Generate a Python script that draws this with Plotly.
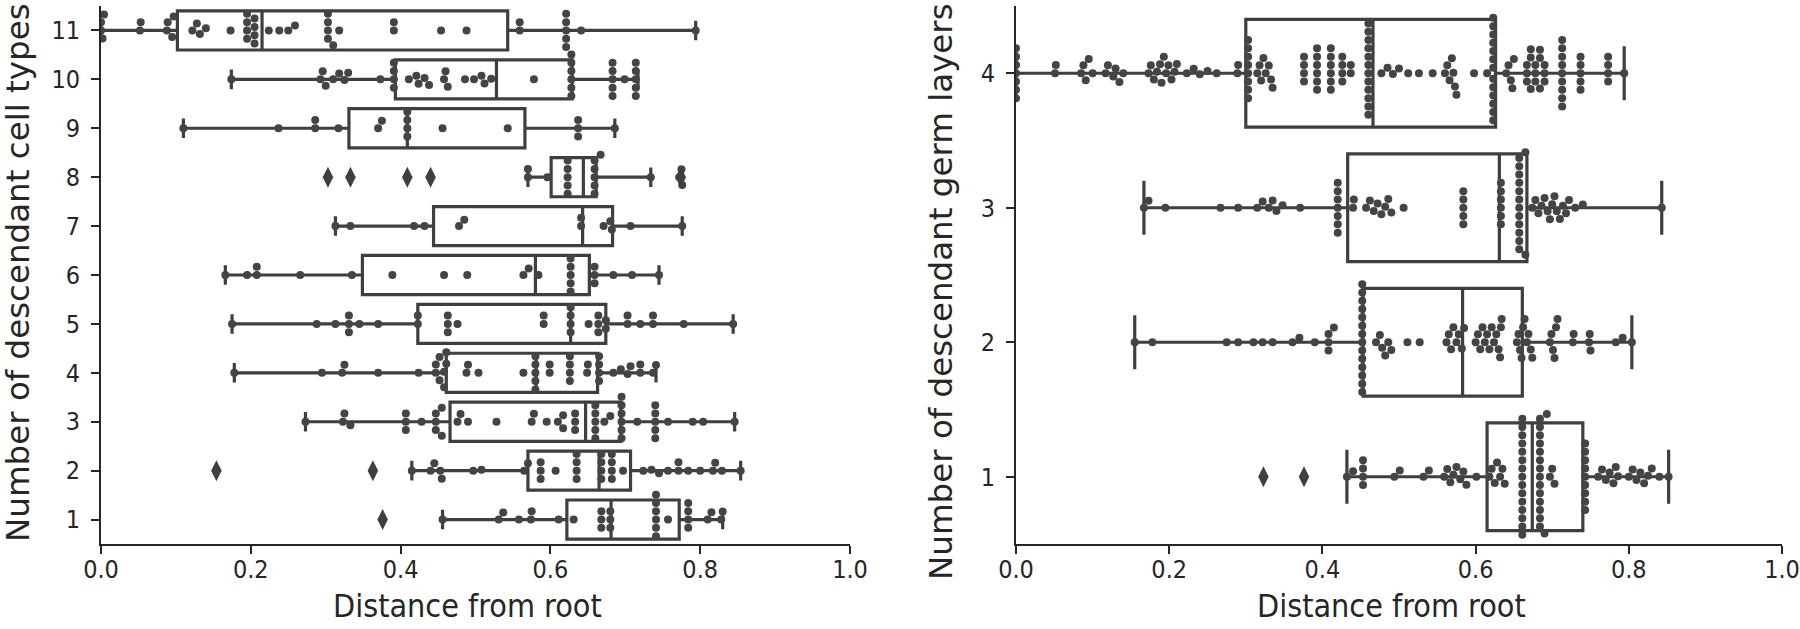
import math
import plotly.graph_objects as go

# ---------------- data: left panel (number of descendant cell types) ----------------
cell_cats = [1, 2, 3, 4, 5, 6, 7, 8, 9, 10, 11]
cell_lo  = [0.456, 0.415, 0.273, 0.178, 0.175, 0.166, 0.313, 0.570, 0.110, 0.174, 0.000]
cell_q1  = [0.622, 0.570, 0.466, 0.461, 0.423, 0.349, 0.444, 0.601, 0.331, 0.393, 0.102]
cell_med = [0.681, 0.665, 0.647, 0.581, 0.627, 0.580, 0.643, 0.644, 0.409, 0.528, 0.215]
cell_q3  = [0.772, 0.707, 0.694, 0.663, 0.674, 0.652, 0.683, 0.661, 0.566, 0.629, 0.543]
cell_hi  = [0.830, 0.854, 0.846, 0.741, 0.844, 0.745, 0.776, 0.734, 0.686, 0.717, 0.794]

cell_out_cat = [8, 8, 8, 8, 8, 2, 2, 1]
cell_out_val = [0.303, 0.333, 0.409, 0.440, 0.774, 0.154, 0.363, 0.376]

cell_1 = [0.456, 0.531, 0.537, 0.558, 0.574, 0.575, 0.611, 0.631, 0.668, 0.668, 0.668, 0.680, 0.680, 0.680,
          0.741, 0.741, 0.741, 0.741, 0.741, 0.741, 0.757, 0.784, 0.784, 0.784, 0.784, 0.810, 0.815, 0.828, 0.830]
cell_2 = [0.415, 0.440, 0.445, 0.453, 0.455, 0.497, 0.508, 0.565, 0.570, 0.587, 0.587, 0.587, 0.607,
          0.635, 0.635, 0.635, 0.635, 0.668, 0.668, 0.668, 0.668, 0.682, 0.682, 0.682, 0.682, 0.697,
          0.724, 0.735, 0.745, 0.757, 0.771, 0.771, 0.784, 0.800, 0.817, 0.820, 0.829, 0.854]
cell_3 = [0.273, 0.323, 0.325, 0.333, 0.407, 0.407, 0.407, 0.428, 0.447, 0.447, 0.447, 0.455, 0.455,
          0.476, 0.480, 0.490, 0.528, 0.575, 0.578, 0.595, 0.610, 0.617, 0.617, 0.633, 0.633, 0.633,
          0.660, 0.660, 0.660, 0.660, 0.660, 0.672, 0.680, 0.695, 0.695, 0.695, 0.695, 0.695, 0.695,
          0.716, 0.740, 0.740, 0.740, 0.740, 0.740, 0.757, 0.790, 0.804, 0.846]
cell_4 = [0.178, 0.295, 0.322, 0.325, 0.370, 0.424, 0.447, 0.447, 0.452, 0.452, 0.458, 0.458, 0.461, 0.461,
          0.488, 0.490, 0.504, 0.564, 0.580, 0.580, 0.580, 0.580, 0.580, 0.599, 0.599, 0.626, 0.626,
          0.626, 0.626, 0.649, 0.650, 0.665, 0.665, 0.665, 0.665, 0.684, 0.694, 0.703, 0.707, 0.720,
          0.720, 0.737, 0.741]
cell_5 = [0.175, 0.288, 0.313, 0.331, 0.331, 0.331, 0.345, 0.370, 0.423, 0.423, 0.463, 0.463, 0.463, 0.476,
          0.591, 0.591, 0.627, 0.627, 0.627, 0.627, 0.651, 0.664, 0.664, 0.664, 0.674, 0.674, 0.703,
          0.703, 0.720, 0.737, 0.737, 0.778, 0.844]
cell_6 = [0.166, 0.195, 0.208, 0.208, 0.266, 0.335, 0.389, 0.458, 0.489, 0.564, 0.571, 0.584, 0.627,
          0.627, 0.627, 0.627, 0.627, 0.659, 0.659, 0.659, 0.684, 0.709, 0.745]
cell_7 = [0.313, 0.333, 0.418, 0.432, 0.478, 0.485, 0.641, 0.641, 0.671, 0.680, 0.682, 0.707, 0.776]
cell_8 = [0.570, 0.570, 0.596, 0.623, 0.623, 0.623, 0.623, 0.623, 0.659, 0.659, 0.659, 0.659, 0.659,
          0.667, 0.734, 0.772, 0.775, 0.776]
cell_9 = [0.110, 0.237, 0.286, 0.286, 0.317, 0.370, 0.375, 0.409, 0.409, 0.409, 0.409, 0.456, 0.543,
          0.637, 0.637, 0.637, 0.686]
cell_10 = [0.174, 0.293, 0.296, 0.300, 0.310, 0.318, 0.325, 0.330, 0.373, 0.391, 0.391, 0.391, 0.391,
           0.411, 0.421, 0.424, 0.432, 0.438, 0.458, 0.460, 0.463, 0.486, 0.498, 0.508, 0.512, 0.521,
           0.578, 0.628, 0.628, 0.628, 0.628, 0.628, 0.628, 0.683, 0.683, 0.683, 0.683, 0.683, 0.699,
           0.714, 0.714, 0.714, 0.714, 0.714]
cell_11 = [0.000, 0.000, 0.002, 0.004, 0.052, 0.053, 0.088, 0.089, 0.095, 0.097, 0.122, 0.128, 0.132,
           0.140, 0.173, 0.195, 0.195, 0.195, 0.195, 0.205, 0.205, 0.205, 0.205, 0.224, 0.238, 0.250,
           0.259, 0.303, 0.303, 0.303, 0.303, 0.310, 0.318, 0.391, 0.391, 0.454, 0.488, 0.559, 0.559,
           0.621, 0.621, 0.621, 0.621, 0.621, 0.641, 0.794]
cell_points = [cell_1, cell_2, cell_3, cell_4, cell_5, cell_6, cell_7, cell_8, cell_9, cell_10, cell_11]

# ---------------- data: right panel (number of descendant germ layers) ----------------
germ_cats = [1, 2, 3, 4]
germ_lo  = [0.432, 0.155, 0.167, 0.000]
germ_q1  = [0.615, 0.453, 0.433, 0.300]
germ_med = [0.674, 0.583, 0.631, 0.466]
germ_q3  = [0.740, 0.661, 0.667, 0.626]
germ_hi  = [0.852, 0.804, 0.843, 0.794]

germ_out_cat = [1, 1]
germ_out_val = [0.323, 0.376]

germ_1 = [0.432, 0.440, 0.453, 0.453, 0.453, 0.453, 0.494, 0.501, 0.532, 0.539,
          0.559, 0.563, 0.567, 0.571, 0.575, 0.580, 0.584, 0.588, 0.601,
          0.618, 0.621, 0.625, 0.628, 0.632, 0.635, 0.638,
          0.661, 0.661, 0.661, 0.661, 0.661, 0.661, 0.661, 0.661, 0.661, 0.661, 0.661, 0.661, 0.661, 0.661, 0.661,
          0.684, 0.684, 0.684, 0.684, 0.684, 0.684, 0.684, 0.684, 0.684, 0.684, 0.684, 0.684, 0.684, 0.684,
          0.690, 0.693, 0.697, 0.700, 0.703,
          0.743, 0.743, 0.743, 0.743, 0.743, 0.743, 0.743, 0.743, 0.743,
          0.760, 0.765, 0.770, 0.775, 0.780, 0.783, 0.786,
          0.800, 0.805, 0.810, 0.815, 0.820, 0.825, 0.830, 0.840, 0.852]
germ_2 = [0.155, 0.178, 0.275, 0.290, 0.310, 0.322, 0.335, 0.361, 0.370, 0.390, 0.408, 0.408, 0.408, 0.415,
          0.452, 0.452, 0.452, 0.452, 0.452, 0.452, 0.452, 0.452, 0.452, 0.452, 0.452, 0.452, 0.452, 0.452,
          0.470, 0.475, 0.478, 0.482, 0.486, 0.490, 0.511, 0.527,
          0.562, 0.565, 0.568, 0.571, 0.575, 0.578, 0.582, 0.585,
          0.600, 0.603, 0.606, 0.609, 0.612, 0.615, 0.618, 0.621, 0.624, 0.627, 0.630, 0.632, 0.633, 0.634,
          0.654, 0.656, 0.658, 0.660, 0.662, 0.664, 0.667, 0.669, 0.672, 0.674,
          0.697, 0.699, 0.701, 0.703, 0.705, 0.707,
          0.727, 0.728, 0.748, 0.749, 0.750, 0.783, 0.792, 0.804]
germ_3 = [0.167, 0.173, 0.195, 0.267, 0.290, 0.315, 0.322, 0.330, 0.335, 0.340, 0.348, 0.371,
          0.420, 0.420, 0.420, 0.420, 0.420, 0.420, 0.420, 0.440, 0.441,
          0.457, 0.462, 0.467, 0.472, 0.477, 0.482, 0.486, 0.490, 0.506,
          0.584, 0.584, 0.584, 0.584, 0.584, 0.633, 0.633, 0.633, 0.633, 0.633, 0.633,
          0.657, 0.657, 0.657, 0.657, 0.657, 0.657, 0.657, 0.657, 0.657, 0.657, 0.657, 0.657, 0.665, 0.665,
          0.674, 0.678, 0.682, 0.686, 0.690, 0.694, 0.697, 0.700, 0.703, 0.706, 0.710, 0.714, 0.718,
          0.722, 0.730, 0.740, 0.843]
germ_4 = [0.000, 0.000, 0.000, 0.000, 0.000, 0.000, 0.000,
          0.051, 0.052, 0.085, 0.088, 0.091, 0.095, 0.100,
          0.117, 0.120, 0.127, 0.130, 0.135, 0.140,
          0.173, 0.176, 0.180, 0.184, 0.188, 0.190, 0.193, 0.196, 0.199, 0.203, 0.207, 0.210,
          0.223, 0.232, 0.240, 0.250, 0.262, 0.289, 0.290,
          0.303, 0.303, 0.303, 0.303, 0.303, 0.303, 0.303, 0.303,
          0.315, 0.318, 0.320, 0.323, 0.326, 0.330, 0.333, 0.335,
          0.376, 0.376, 0.376, 0.376, 0.393, 0.393, 0.393, 0.393, 0.393, 0.393,
          0.411, 0.411, 0.411, 0.411, 0.411, 0.411, 0.426, 0.426, 0.426, 0.426, 0.437, 0.437,
          0.460, 0.460, 0.460, 0.460, 0.460, 0.460, 0.460, 0.460, 0.460, 0.460, 0.460, 0.460,
          0.477, 0.485, 0.492, 0.500, 0.512, 0.526, 0.544,
          0.560, 0.563, 0.566, 0.569, 0.571, 0.573, 0.575, 0.598, 0.615,
          0.623, 0.623, 0.623, 0.623, 0.623, 0.623, 0.623, 0.623, 0.623, 0.623, 0.623, 0.623, 0.623,
          0.640, 0.643, 0.646, 0.648, 0.650,
          0.667, 0.667, 0.667, 0.672, 0.672, 0.672, 0.678, 0.678, 0.678, 0.684, 0.684, 0.684, 0.690, 0.690, 0.690,
          0.713, 0.713, 0.713, 0.713, 0.713, 0.713, 0.713, 0.713, 0.713,
          0.737, 0.737, 0.737, 0.737, 0.737, 0.773, 0.773, 0.773, 0.773, 0.794]
germ_points = [germ_1, germ_2, germ_3, germ_4]

# ---------------- styling / geometry ----------------
W, H = 1800, 629
DARK = "#3f3f3f"
DOT = "#444444"
AXIS = "#262626"
FONT = "DejaVu Sans"
FONT_C = "DejaVu Sans Condensed, DejaVu Sans"
TICK_SIZE = 25
XTITLE_SIZE = 32
YTITLE_SIZE = 32.5

L_X0, L_X1 = 101, 850
R_X0, R_X1 = 1016, 1782
Y_TOP, Y_BOT = 6, 544
DOT_D = 8.3


def swarm(values, d):
    """Beeswarm offsets (pixels) for values given in pixels."""
    placed = []
    for x in sorted(values):
        nb = [(px, py) for px, py in placed if abs(px - x) < d]
        cands = [0.0]
        for px, py in nb:
            dy = math.sqrt(max(d * d - (px - x) ** 2, 0.0))
            cands += [py + dy, py - dy]
        cands.sort(key=lambda c: (abs(c), c))
        for c in cands:
            if all((px - x) ** 2 + (py - c) ** 2 >= d * d - 1e-6 for px, py in nb):
                placed.append((x, c))
                break
    return placed


fig = go.Figure()


def add_panel(cats, lo, q1, med, q3, hi, points, out_cat, out_val, xa, ya, x0px, x1px, nrange):
    ppx = (x1px - x0px)
    ppy = (Y_BOT - Y_TOP) / nrange
    fig.add_trace(go.Box(
        y=cats, q1=q1, median=med, q3=q3, lowerfence=lo, upperfence=hi,
        orientation="h", width=0.8, whiskerwidth=0.5, boxpoints=False,
        fillcolor="rgba(255,255,255,0)", line=dict(color=DARK, width=3.2),
        xaxis=xa, yaxis=ya, showlegend=False, hoverinfo="skip"))
    xs, ys = [], []
    for cat, vals in zip(cats, points):
        for px, off in swarm([v * ppx for v in vals], DOT_D):
            xs.append(px / ppx)
            ys.append(cat - off / ppy)
    fig.add_trace(go.Scatter(
        x=xs, y=ys, mode="markers", marker=dict(color=DOT, size=8, line=dict(width=0)),
        xaxis=xa, yaxis=ya, showlegend=False, hoverinfo="skip"))
    fig.add_trace(go.Scatter(
        x=out_val, y=out_cat, mode="markers",
        marker=dict(color=DARK, size=15, symbol="diamond-tall", line=dict(width=0)),
        xaxis=xa, yaxis=ya, showlegend=False, hoverinfo="skip"))


add_panel(cell_cats, cell_lo, cell_q1, cell_med, cell_q3, cell_hi, cell_points,
          cell_out_cat, cell_out_val, "x", "y", L_X0, L_X1, 11)
add_panel(germ_cats, germ_lo, germ_q1, germ_med, germ_q3, germ_hi, germ_points,
          germ_out_cat, germ_out_val, "x2", "y2", R_X0, R_X1, 4)

xticks = [0.0, 0.2, 0.4, 0.6, 0.8, 1.0]
common_axis = dict(showline=True, linecolor=AXIS, linewidth=1.8, ticks="outside", ticklen=8,
                   tickwidth=1.8, tickcolor=AXIS, showgrid=False, zeroline=False, automargin=False,
                   tickfont=dict(family=FONT_C, size=TICK_SIZE, color=AXIS), mirror=False)

ydom = [1 - Y_BOT / H, 1 - Y_TOP / H]
fig.update_layout(
    width=W, height=H, margin=dict(l=0, r=0, t=0, b=0, pad=0, autoexpand=False),
    paper_bgcolor="white", plot_bgcolor="white",
    xaxis=dict(domain=[L_X0 / W, L_X1 / W], range=[0, 1], tickvals=xticks, ticklabelstandoff=-6,
               ticktext=[f"{t:.1f}" for t in xticks], anchor="y", **common_axis),
    yaxis=dict(domain=ydom, range=[0.5, 11.5], tickvals=cell_cats, ticklabelstandoff=6,
               ticktext=[str(c) for c in cell_cats], anchor="x", **common_axis),
    xaxis2=dict(domain=[R_X0 / W, R_X1 / W], range=[0, 1], tickvals=xticks, ticklabelstandoff=-6,
                ticktext=[f"{t:.1f}" for t in xticks], anchor="y2", **common_axis),
    yaxis2=dict(domain=ydom, range=[0.5, 4.5], tickvals=germ_cats, ticklabelstandoff=6,
                ticktext=[str(c) for c in germ_cats], anchor="x2", **common_axis),
)

xtitle_font = dict(family=FONT_C, size=XTITLE_SIZE, color=AXIS)
ytitle_font = dict(family=FONT, size=YTITLE_SIZE, color=AXIS)
fig.add_annotation(text="Distance from root", xref="paper", yref="paper",
                   x=((L_X0 + L_X1) / 2 - 8) / W, y=1 - 606 / H, showarrow=False,
                   xanchor="center", yanchor="middle", font=xtitle_font)
fig.add_annotation(text="Distance from root", xref="paper", yref="paper",
                   x=((R_X0 + R_X1) / 2 - 8) / W, y=1 - 606 / H, showarrow=False,
                   xanchor="center", yanchor="middle", font=xtitle_font)
fig.add_annotation(text="Number of descendant cell types", xref="paper", yref="paper",
                   x=18 / W, y=1 - 273 / H, showarrow=False, textangle=-90,
                   xanchor="center", yanchor="middle", font=ytitle_font)
fig.add_annotation(text="Number of descendant germ layers", xref="paper", yref="paper",
                   x=941 / W, y=1 - 292 / H, showarrow=False, textangle=-90,
                   xanchor="center", yanchor="middle", font=ytitle_font)

fig.write_html("out.html", config={"displayModeBar": False},
               post_script="document.body.style.margin='0px';")
